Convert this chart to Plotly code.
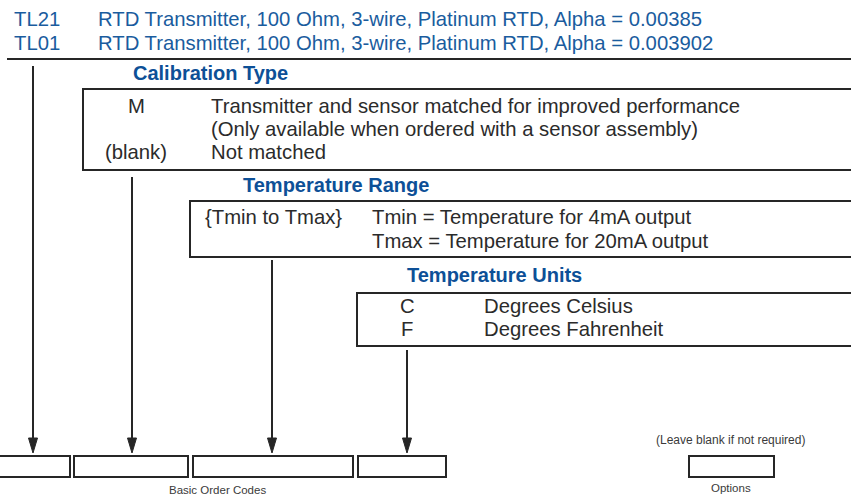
import plotly.graph_objects as go

W, H = 851, 497
BLUE = "#1a5c9e"
BLUE_B = "#0d5097"
DARK = "#2b2b2b"
LINE = "#262626"
FONT = "Liberation Sans, Arial, sans-serif"

# ---- content ----
model_codes = ["TL21", "TL01"]
model_descs = [
    "RTD Transmitter, 100 Ohm, 3-wire, Platinum RTD, Alpha = 0.00385",
    "RTD Transmitter, 100 Ohm, 3-wire, Platinum RTD, Alpha = 0.003902",
]
section_titles = ["Calibration Type", "Temperature Range", "Temperature Units"]
cal_codes = ["M", "", "(blank)"]
cal_descs = [
    "Transmitter and sensor matched for improved performance",
    "(Only available when ordered with a sensor assembly)",
    "Not matched",
]
range_codes = ["{Tmin to Tmax}", ""]
range_descs = ["Tmin = Temperature for 4mA output", "Tmax = Temperature for 20mA output"]
unit_codes = ["C", "F"]
unit_descs = ["Degrees Celsius", "Degrees Fahrenheit"]
footer_labels = ["Basic Order Codes", "(Leave blank if not required)", "Options"]

# ---- layout geometry (pixels) ----
title_pos = [(210, 73), (336, 185), (494, 275)]
section_boxes = [(83, 89, 170), (190, 201, 257), (357, 293, 346)]  # x0, y0, y1 (open right)
leader_x = [33, 132, 272, 407]
leader_y0 = [66, 177, 260, 350]
arrow_tip = 453
order_boxes = [(-2, 70), (74, 188), (193, 353), (358, 446), (689, 774)]
order_y = (456, 477)

fig = go.Figure()
shapes = []
ann = []

def text(x, y, s, size=20.3, color=DARK, anchor="left", bold=False):
    ann.append(dict(x=x, y=y, xref="x", yref="y", text=("<b>%s</b>" % s) if bold else s,
                    showarrow=False, xanchor=anchor, yanchor="middle",
                    font=dict(family=FONT, size=size, color=color)))

# header
for i, (c, d) in enumerate(zip(model_codes, model_descs)):
    y = 19 + i * 24
    text(12, y, c, color=BLUE)
    text(96, y, d, color=BLUE)
shapes.append(dict(type="line", x0=7, x1=W, y0=59, y1=59, line=dict(color=LINE, width=2)))

# section titles
for (x, y), t in zip(title_pos, section_titles):
    text(x, y, t, color=BLUE_B, anchor="center", bold=True, size=20)

# section boxes (open at right edge)
for x0, y0, y1 in section_boxes:
    shapes.append(dict(type="path", path=f"M {W+5},{y0} L {x0},{y0} L {x0},{y1} L {W+5},{y1}",
                       line=dict(color=LINE, width=2)))

# calibration entries
for i, (c, d) in enumerate(zip(cal_codes, cal_descs)):
    y = 106 + i * 23
    if c:
        text(136, y, c, anchor="center")
    text(209, y, d)

# range entries
for i, (c, d) in enumerate(zip(range_codes, range_descs)):
    y = 217 + i * 24
    if c:
        text(203, y, c)
    text(370, y, d)

# unit entries
for i, (c, d) in enumerate(zip(unit_codes, unit_descs)):
    y = 306 + i * 23
    text(407, y, c, anchor="center")
    text(482, y, d)

# leader lines with arrowheads
for x, y0 in zip(leader_x, leader_y0):
    shapes.append(dict(type="line", x0=x, x1=x, y0=y0, y1=arrow_tip - 10, line=dict(color=LINE, width=2)))
    shapes.append(dict(type="path", path=f"M {x-4.5},{arrow_tip-15} L {x+4.5},{arrow_tip-15} L {x},{arrow_tip} Z",
                       fillcolor=LINE, line=dict(color=LINE, width=1)))

# order code boxes
for x0, x1 in order_boxes:
    shapes.append(dict(type="rect", x0=x0, x1=x1, y0=order_y[0], y1=order_y[1],
                       line=dict(color=LINE, width=2), fillcolor="rgba(0,0,0,0)"))

text(217, 490, footer_labels[0], size=11.5, color="#3a3a3a", anchor="center")
text(730, 440, footer_labels[1], size=12, color="#3a3a3a", anchor="center")
text(731, 488, footer_labels[2], size=11.5, color="#3a3a3a", anchor="center")

fig.update_layout(
    width=W, height=H, margin=dict(l=0, r=0, t=0, b=0),
    paper_bgcolor="white", plot_bgcolor="white",
    xaxis=dict(range=[0, W], visible=False, fixedrange=True),
    yaxis=dict(range=[H, 0], visible=False, fixedrange=True),
    shapes=shapes, annotations=ann, showlegend=False,
)
fig.write_html("out.html", config={"displayModeBar": False},
               post_script="document.body.style.margin='0';document.body.style.overflow='hidden';")
